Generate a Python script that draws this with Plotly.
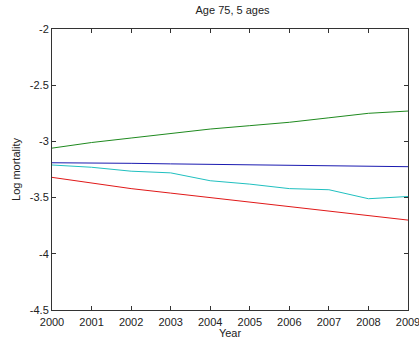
import plotly.graph_objects as go

years = [2000, 2001, 2002, 2003, 2004, 2005, 2006, 2007, 2008, 2009]
blue = [-3.19, -3.19, -3.195, -3.20, -3.205, -3.21, -3.21, -3.215, -3.22, -3.225]
green = [-3.06, -3.01, -2.97, -2.93, -2.89, -2.86, -2.83, -2.79, -2.75, -2.73]
red = [-3.32, -3.37, -3.42, -3.46, -3.50, -3.54, -3.58, -3.62, -3.66, -3.70]
cyan = [-3.21, -3.23, -3.265, -3.28, -3.35, -3.38, -3.42, -3.43, -3.51, -3.49]

series = [(blue, "#1a1ab0"), (green, "#1f8a1f"), (red, "#e01818"), (cyan, "#20c0c0")]
fig = go.Figure()
for vals, col in series:
    fig.add_trace(go.Scatter(x=years, y=vals, mode="lines",
                             line=dict(color=col, width=1), showlegend=False))

font = dict(family="Liberation Sans, Arial, sans-serif", size=11, color="#222")
axis_common = dict(showgrid=False, zeroline=False, showline=True, linecolor="#333",
                   linewidth=1, mirror="ticks", ticks="inside", ticklen=4,
                   tickcolor="#333", tickfont=font, automargin=False)
fig.update_layout(
    width=419, height=339,
    margin=dict(l=52, r=11, t=29, b=29),
    paper_bgcolor="white", plot_bgcolor="white",
    title=dict(text="Age 75, 5 ages", x=0.555, xanchor="center", y=0.97,
               yanchor="middle", font=dict(family=font["family"], size=11, color="#222")),
    xaxis=dict(range=[2000, 2009], tickvals=years, ticktext=[str(y) for y in years],
               ticklabeloverflow="allow", ticklabelstandoff=2,
               title=dict(text="Year", font=font, standoff=4), **axis_common),
    yaxis=dict(range=[-4.5, -2], tickvals=[-4.5, -4, -3.5, -3, -2.5, -2],
               ticktext=["-4.5", "-4", "-3.5", "-3", "-2.5", "-2"],
               title=dict(text="Log mortality", font=font, standoff=6), **axis_common),
)
fig.write_html("out.html")
